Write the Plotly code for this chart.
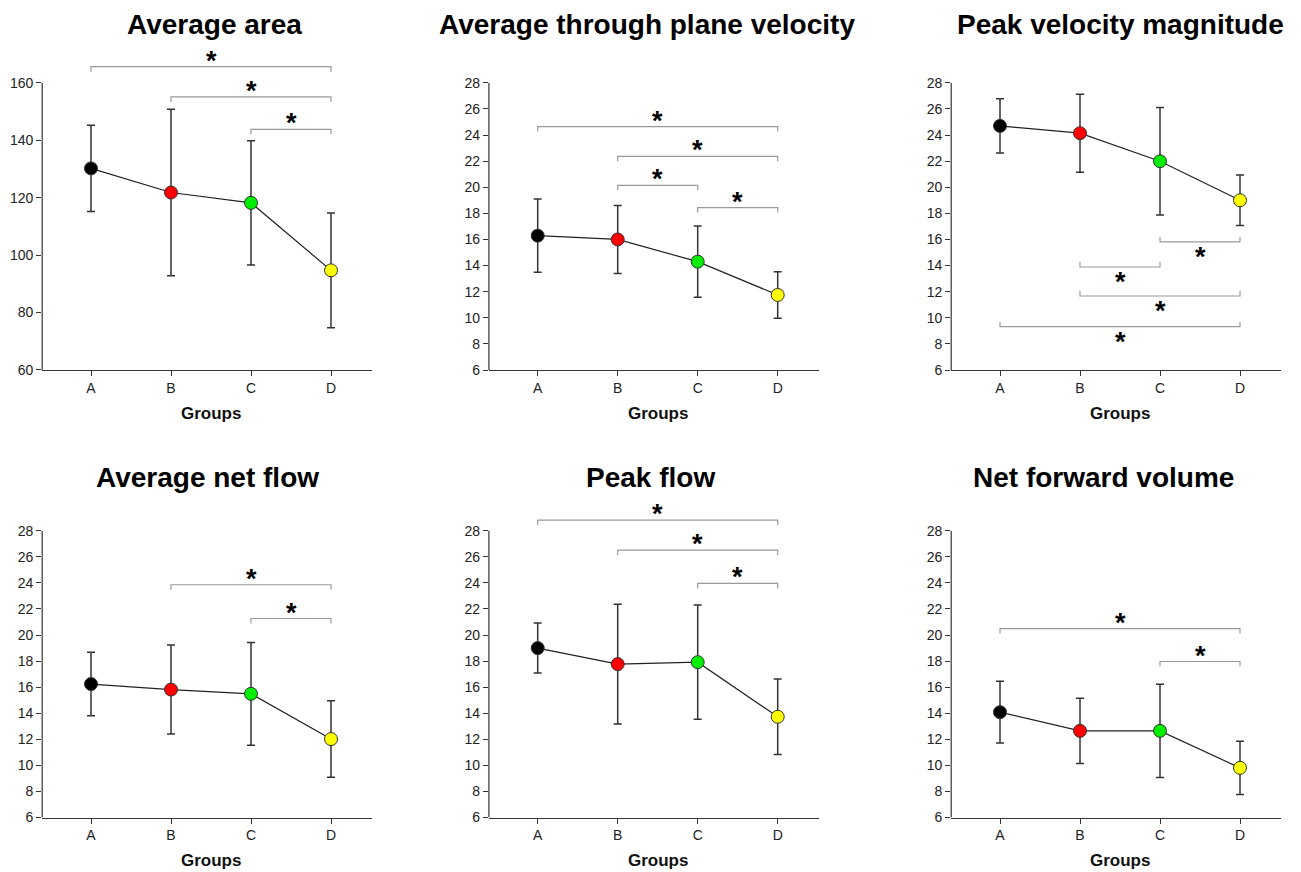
import plotly.graph_objects as go

W, H = 1301, 872
OFF = 8  # default page body margin of the html page
FONT = "Arial, Liberation Sans, sans-serif"

groups = ["A", "B", "C", "D"]
marker_colors = ["#000000", "#ff0000", "#00ee00", "#ffff00"]

titles = ["Average area", "Average through plane velocity", "Peak velocity magnitude",
          "Average net flow", "Peak flow", "Net forward volume"]

area_mean = [130.2, 121.8, 118.2, 94.7]
area_err = [15.0, 29.0, 21.6, 20.0]

tpv_mean = [16.29, 16.0, 14.3, 11.75]
tpv_err = [2.8, 2.6, 2.73, 1.78]

pvm_mean = [24.7, 24.14, 21.99, 19.0]
pvm_err = [2.07, 2.99, 4.12, 1.93]

netflow_mean = [16.24, 15.82, 15.49, 12.02]
netflow_err = [2.44, 3.42, 3.94, 2.94]

peakflow_mean = [19.0, 17.77, 17.92, 13.73]
peakflow_err = [1.92, 4.6, 4.39, 2.9]

nfv_mean = [14.08, 12.65, 12.65, 9.81]
nfv_err = [2.37, 2.5, 3.58, 2.05]

# significance brackets: (group i, group j, bracket level)
sig_area = [(0, 3, 165.6), (1, 3, 155.1), (2, 3, 143.8)]
sig_tpv = [(0, 3, 24.65), (1, 3, 22.37), (1, 2, 20.15), (2, 3, 18.44)]
sig_pvm = [(2, 3, 15.81), (1, 2, 13.89), (1, 3, 11.67), (0, 3, 9.32)]
sig_netflow = [(1, 3, 23.86), (2, 3, 21.27)]
sig_peakflow = [(0, 3, 28.82), (1, 3, 26.52), (2, 3, 23.96)]
sig_nfv = [(0, 3, 20.5), (2, 3, 17.97)]

y_ticks_area = [60, 80, 100, 120, 140, 160]
y_ticks_small = [6, 8, 10, 12, 14, 16, 18, 20, 22, 24, 26, 28]

panels = [
    dict(mean=area_mean, err=area_err, sig=sig_area, ticks=y_ticks_area, ext=172, below=False),
    dict(mean=tpv_mean, err=tpv_err, sig=sig_tpv, ticks=y_ticks_small, ext=28, below=False),
    dict(mean=pvm_mean, err=pvm_err, sig=sig_pvm, ticks=y_ticks_small, ext=28, below=True),
    dict(mean=netflow_mean, err=netflow_err, sig=sig_netflow, ticks=y_ticks_small, ext=28, below=False),
    dict(mean=peakflow_mean, err=peakflow_err, sig=sig_peakflow, ticks=y_ticks_small, ext=29.6, below=False),
    dict(mean=nfv_mean, err=nfv_err, sig=sig_nfv, ticks=y_ticks_small, ext=28, below=False),
]

# layout geometry (pixels in the final page)
col_A_px = [91, 537.7, 1000]
cat_px = 80
x_range = [-0.61, 3.51]
row_bottom_px = [370, 817.5]
row_toptick_px = [82.8, 530.8]
title_px = [(214.5, None), (646.5, None), (1120.5, None), (207, 477), (650.5, 477), (1103.5, 477)]

AX_COLOR = "#333333"
fig = go.Figure()
layout = {}
annotations = []
shapes = []


def fx(px):
    return (px - OFF) / W


def fy(py):
    return 1 - (py - OFF) / H


for k, p in enumerate(panels):
    r, c = divmod(k, 3)
    sfx = "" if k == 0 else str(k + 1)
    xa, ya = "x" + sfx, "y" + sfx
    lo, hi = p["ticks"][0], p["ticks"][-1]
    bottom = row_bottom_px[r]
    ppu = (bottom - row_toptick_px[r]) / (hi - lo)
    top_ext = bottom - (p["ext"] - lo) * ppu
    x0px = col_A_px[c] + x_range[0] * cat_px
    x1px = col_A_px[c] + x_range[1] * cat_px

    layout["xaxis" + sfx] = dict(
        domain=[fx(x0px), fx(x1px)], range=x_range, anchor=ya, automargin=False,
        tickvals=[0, 1, 2, 3], ticktext=groups, ticks="outside", ticklen=5,
        tickcolor=AX_COLOR, tickwidth=1.2, showline=True, linecolor=AX_COLOR, linewidth=1.2,
        showgrid=False, zeroline=False, tickfont=dict(family=FONT, size=14, color="#222"),
    )
    layout["yaxis" + sfx] = dict(
        domain=[fy(bottom), fy(top_ext)], range=[lo, p["ext"]], anchor=xa, automargin=False,
        tickvals=p["ticks"], ticks="outside", ticklen=5, tickcolor=AX_COLOR, tickwidth=1.2,
        showline=False, showgrid=False, zeroline=False,
        tickfont=dict(family=FONT, size=14, color="#222"),
    )
    # y axis line only up to the top tick
    shapes.append(dict(type="line", xref=xa + " domain", x0=0, x1=0, yref=ya, y0=lo, y1=hi,
                       line=dict(color=AX_COLOR, width=1.2)))

    hook = 5 / ppu
    for (i, j, h) in p["sig"]:
        d = hook if p["below"] else -hook
        fig.add_trace(go.Scatter(
            x=[i, i, j, j], y=[h + d, h, h, h + d], mode="lines", xaxis=xa, yaxis=ya,
            line=dict(color="#999999", width=1.2), showlegend=False, hoverinfo="skip"))
        annotations.append(dict(
            text="*", xref=xa, yref=ya, x=(i + j) / 2, y=h, showarrow=False,
            xanchor="center", yanchor="middle", yshift=(-15 if p["below"] else 6),
            font=dict(family=FONT, size=27, color="#000", weight=700)))

    fig.add_trace(go.Scatter(
        x=[0, 1, 2, 3], y=p["mean"], mode="lines+markers", xaxis=xa, yaxis=ya,
        line=dict(color="#222222", width=1.2),
        marker=dict(size=13, color=marker_colors, line=dict(color="#333333", width=1)),
        error_y=dict(type="data", array=p["err"], visible=True, color="#333333",
                     thickness=1.5, width=4),
        showlegend=False, cliponaxis=False))

    annotations.append(dict(
        text="Groups", xref=xa, yref=ya + " domain", x=1.5, y=0, showarrow=False,
        xanchor="center", yanchor="middle", yshift=-43,
        font=dict(family=FONT, size=17, color="#111", weight=700)))
    tx, ty = title_px[k]
    if ty is None:
        ty_frac, yanc = 1.0, "top"
    else:
        ty_frac, yanc = fy(ty), "middle"
    annotations.append(dict(
        text=titles[k], xref="paper", yref="paper", x=fx(tx), y=ty_frac, showarrow=False,
        xanchor="center", yanchor=yanc, borderpad=0,
        font=dict(family=FONT, size=28, color="#000", weight=700)))

fig.update_layout(**layout)
fig.update_layout(
    width=W, height=H, margin=dict(l=0, r=0, t=0, b=0, pad=0, autoexpand=False),
    paper_bgcolor="white", plot_bgcolor="white",
    annotations=annotations, shapes=shapes, showlegend=False,
)
fig.write_html("out.html")
